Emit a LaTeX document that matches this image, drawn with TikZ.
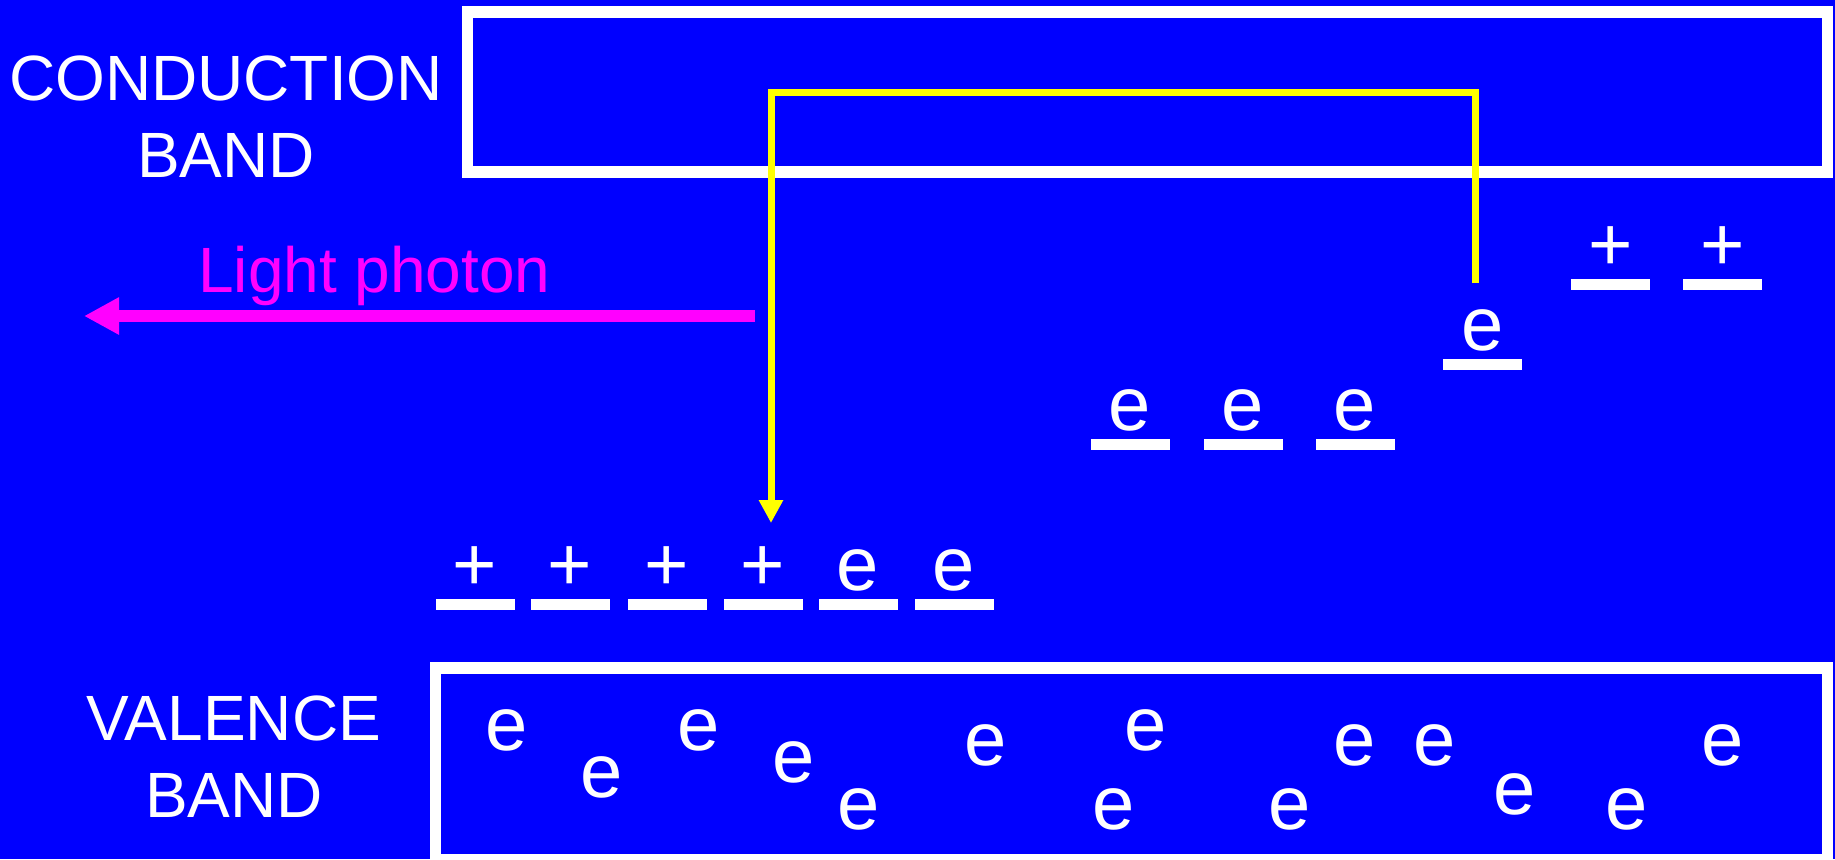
\documentclass[tikz,border=0pt]{standalone}
\usepackage{fontspec}
\setmainfont{Liberation Sans}
\usetikzlibrary{arrows.meta}
\definecolor{bg}{RGB}{0,0,255}
\definecolor{ylw}{RGB}{255,255,0}
\definecolor{mag}{RGB}{255,0,255}
\tikzset{
  lbl/.style={text=white, font=\fontsize{32}{38}\selectfont, inner sep=0pt, outer sep=0pt},
  chg/.style={text=white, font=\fontsize{38}{45}\selectfont, inner sep=0pt, outer sep=0pt},
  lvl/.style={fill=white, minimum width=39.5pt, minimum height=5.5pt, inner sep=0pt, outer sep=0pt},
  bandbox/.style={draw=white, line width=5.75pt, inner sep=0pt, outer sep=0pt},
  jump/.style={draw=ylw, line width=3.5pt, -{Triangle[length=11.5pt,width=11.5pt]}},
  photonarrow/.style={draw=mag, line width=6pt, -{Triangle[length=17.5pt,width=17.5pt]}}
}
\begin{document}
\begin{tikzpicture}[x=0.5pt,y=-0.5pt]
\useasboundingbox (0,0) rectangle (1835,859);
\fill[bg] (0,0) rectangle (1835,859);
% bands
\node[bandbox, minimum width=680pt, minimum height=80pt] (cb) at (1147.5,92) {};
\node[bandbox, minimum width=696pt, minimum height=96pt] (vb) at (1131.5,764) {};
% labels
\node[lbl,anchor=base] (cond1) at (226,100) {CONDUCTION};
\node[lbl,anchor=base] (cond2) at (226,177) {BAND};
\node[lbl,anchor=base] (val1) at (234,740) {VALENCE};
\node[lbl,anchor=base] (val2) at (234,817) {BAND};
\node[lbl,text=mag,anchor=base] (photon) at (374.5,292) {Light photon};
% levels with charges
\foreach \x/\y/\t [count=\i] in {475/604/+,570/604/+,667/604/+,763/604/+,858/604/e,954/604/e,
  1130/444/e,1243/444/e,1355/444/e,1482.5/364/e,1610.5/284/+,1722.5/284/+}{
  \node[lvl] (lv\i) at (\x,\y) {};
  \path (lv\i.north) ++(0,-8) node[chg,anchor=base] (ch\i) {\t};
}
% valence electrons
\foreach \x/\y [count=\i] in {507/750,602/797,699/750,794/782,859/829,986/765,1146/750,
  1114/829,1290/829,1355/765,1435/765,1515/814,1627/829,1723/765}{
  \node[chg,anchor=base] (ve\i) at (\x,\y) {e};
}
% transition
\coordinate (ys) at (1475,283);
\coordinate (ye) at (771,523);
\draw[jump] (ys) -- ++(0,-191) -| (ye);
% photon
\coordinate (ps) at (755,316);
\coordinate (pe) at (84,316);
\draw[photonarrow] (ps) -- (pe);
\end{tikzpicture}
\end{document}
